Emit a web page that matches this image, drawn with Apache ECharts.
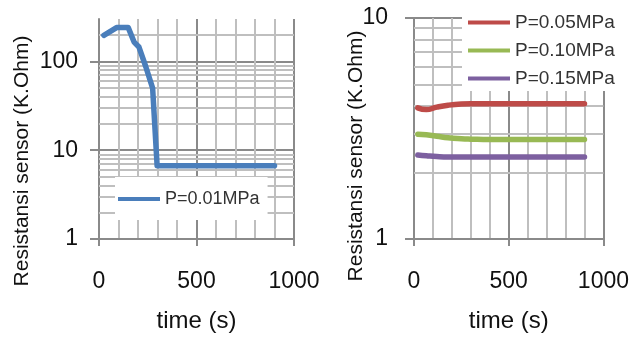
<!DOCTYPE html>
<html>
<head>
<meta charset="utf-8">
<script src="https://cdn.jsdelivr.net/npm/echarts@6/dist/echarts.min.js"></script>
<style>
  html, body { margin: 0; padding: 0; background: #fff; }
  #chart { width: 632px; height: 338px; }
</style>
</head>
<body>
<div id="chart"></div>
<script>
// left panel: P=0.01MPa
const timeA = [25, 90, 150, 180, 205, 240, 275, 298, 400, 500, 600, 700, 800, 900];
const resA  = [196, 240, 240, 165, 145, 87, 50, 6.7, 6.7, 6.7, 6.7, 6.7, 6.7, 6.7];

// right panel
const timeB = [20, 65, 120, 180, 250, 300, 400, 500, 600, 700, 800, 900];
const res005 = [3.92, 3.85, 3.95, 4.03, 4.08, 4.09, 4.09, 4.09, 4.09, 4.09, 4.09, 4.09];
const res010 = [2.98, 2.96, 2.92, 2.87, 2.84, 2.83, 2.82, 2.82, 2.82, 2.82, 2.82, 2.82];
const res015 = [2.40, 2.38, 2.36, 2.35, 2.35, 2.35, 2.35, 2.35, 2.35, 2.35, 2.35, 2.35];

const yTicksA = [1, 10, 100];
const yTicksB = [1, 10];

const FONT = 'Liberation Sans';
const MAJOR = '#8a8a8a';
const MINOR = '#bfbfbf';
const Y_NAME = 'Resistansi sensor (K.Ohm)';

function pair(xs, ys) { return xs.map((x, i) => [x, ys[i]]); }

// minor log gridlines 2..9 of every decade below max
function minorLog(max) {
  const out = [];
  for (let d = 1; d < max; d *= 10) {
    for (let k = 2; k <= 9; k++) {
      if (k * d < max) out.push({ yAxis: k * d });
    }
  }
  return out;
}

function xAxisFor(idx) {
  return {
    type: 'value', gridIndex: idx, min: 0, max: 1000, interval: 500,
    name: 'time (s)', nameLocation: 'middle', nameGap: 70,
    nameTextStyle: { fontFamily: FONT, fontSize: 24, color: '#111' },
    axisLine: { show: true, lineStyle: { color: MAJOR, width: 2 } },
    axisTick: { show: true, length: 7, lineStyle: { color: MAJOR, width: 2 } },
    axisLabel: { fontFamily: FONT, fontSize: 23, color: '#111', margin: 31, formatter: v => String(v) },
    splitLine: { show: true, lineStyle: { color: MAJOR, width: 2 } },
    minorTick: { show: false, splitNumber: 5 },
    minorSplitLine: { show: true, lineStyle: { color: MINOR, width: 2 } }
  };
}

function yAxisFor(idx, max, ticks, margin) {
  return {
    type: 'log', logBase: 10, gridIndex: idx, min: 1, max: max,
    axisLine: { show: true, lineStyle: { color: MAJOR, width: 2 } },
    axisTick: { show: true, length: 9, customValues: ticks, lineStyle: { color: MAJOR, width: 2 } },
    axisLabel: { fontFamily: FONT, fontSize: 23, color: '#111', margin: margin, customValues: ticks },
    splitLine: { show: true, lineStyle: { color: MAJOR, width: 2 } }
  };
}

function gridSeries(idx, max) {
  return {
    type: 'line', xAxisIndex: idx, yAxisIndex: idx, data: [], silent: true, z: 1,
    markLine: {
      z: 1, silent: true, symbol: 'none', label: { show: false }, animation: false,
      lineStyle: { color: MINOR, width: 2, type: 'solid' },
      emphasis: { disabled: true },
      data: minorLog(max)
    }
  };
}

function lineSeries(name, idx, data, color, smooth) {
  return {
    name: name, type: 'line', xAxisIndex: idx, yAxisIndex: idx, data: data,
    symbol: 'none', smooth: smooth, z: 3,
    lineStyle: { color: color, width: 5.5, cap: 'round', join: 'round' },
    itemStyle: { color: color }
  };
}

function yName(x, y) {
  return {
    type: 'text', x: x, y: y, rotation: Math.PI / 2,
    style: {
      text: Y_NAME, fontFamily: FONT, fontSize: 21, fill: '#111',
      align: 'center', verticalAlign: 'middle'
    }
  };
}

const chart = echarts.init(document.getElementById('chart'), null, { renderer: 'canvas' });
chart.setOption({
  animation: false,
  backgroundColor: '#fff',
  grid: [
    { left: 99, top: 19, width: 195, height: 222 },
    { left: 414, top: 18, width: 191, height: 221 }
  ],
  xAxis: [xAxisFor(0), xAxisFor(1)],
  yAxis: [yAxisFor(0, 300, yTicksA, 21), yAxisFor(1, 10, yTicksB, 26)],
  graphic: [yName(22, 161), yName(356, 156)],
  legend: [
    {
      data: ['P=0.01MPa'], left: 115, top: 177,
      backgroundColor: '#fff', padding: [13, 8, 12, 3],
      icon: 'rect', itemWidth: 42, itemHeight: 4, itemGap: 5,
      textStyle: { fontFamily: FONT, fontSize: 18, color: '#333' }
    },
    {
      data: ['P=0.05MPa', 'P=0.10MPa', 'P=0.15MPa'], orient: 'vertical', left: 462, top: 3,
      backgroundColor: '#fff', padding: [9, 20, 2, 6],
      icon: 'rect', itemWidth: 42, itemHeight: 4, itemGap: 7,
      textStyle: { fontFamily: FONT, fontSize: 19, color: '#333', lineHeight: 21 }
    }
  ],
  series: [
    gridSeries(0, 300),
    gridSeries(1, 10),
    lineSeries('P=0.01MPa', 0, pair(timeA, resA), '#4a7ebb', false),
    lineSeries('P=0.05MPa', 1, pair(timeB, res005), '#be4b48', true),
    lineSeries('P=0.10MPa', 1, pair(timeB, res010), '#98b954', true),
    lineSeries('P=0.15MPa', 1, pair(timeB, res015), '#7d60a0', true)
  ]
});
</script>
</body>
</html>
